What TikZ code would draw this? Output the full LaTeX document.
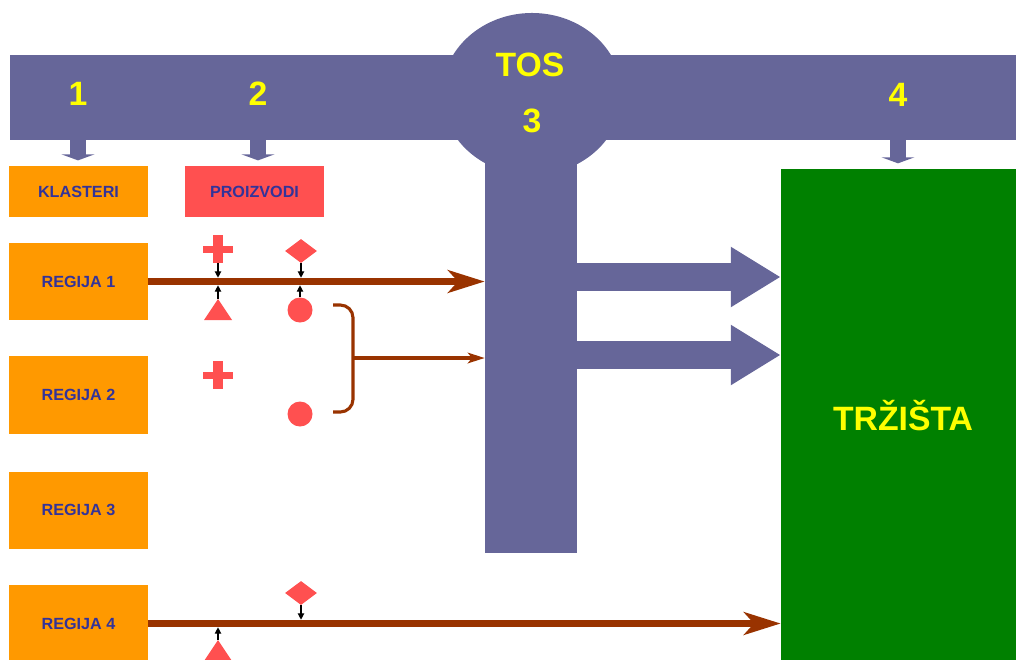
\documentclass[tikz,border=0pt]{standalone}
\usepackage{fontspec}
\setmainfont{Liberation Sans}
\usepackage{xcolor}
\usepackage{tikz}
\usetikzlibrary{arrows.meta,shapes.geometric}
\definecolor{tosblue}{RGB}{102,102,153}
\definecolor{regorange}{RGB}{255,153,0}
\definecolor{symred}{RGB}{255,80,80}
\definecolor{txtblue}{RGB}{51,51,153}
\definecolor{tosyellow}{RGB}{255,255,0}
\definecolor{mktgreen}{RGB}{0,128,0}
\definecolor{flowbrown}{RGB}{153,51,0}
\tikzset{
  tsband/.style={fill=tosblue, draw=none, inner sep=0pt},
  tsbox/.style={fill=regorange, draw=none, inner sep=0pt, minimum width=3.45cm, text=txtblue, font=\fontsize{11.5}{13}\selectfont\bfseries},
  tsnum/.style={text=tosyellow, inner sep=0pt, font=\fontsize{24}{26}\selectfont\bfseries},
  tsdown/.style={line width=12pt, draw=tosblue, -{Triangle[length=4.3pt,width=23.4pt]}, shorten >=3.8pt},
  tsflow/.style={line width=5.4pt, draw=flowbrown, -{Stealth[length=26pt,width=16pt,inset=7pt]}},
  tsthin/.style={line width=2.2pt, draw=flowbrown, -{Stealth[length=12pt,width=7.5pt,inset=3pt]}},
  tsbrace/.style={line width=2.2pt, draw=flowbrown, rounded corners=9pt},
  tsbig/.style={line width=20.5pt, draw=tosblue, -{Triangle[length=35.5pt,width=40.4pt]}},
  tstick/.style={line width=0.8pt, draw=black, -{Triangle[length=4.5pt,width=4.5pt]}, shorten >=2.7pt},
  tsdiamond/.style={diamond, fill=symred, inner sep=0pt, minimum width=0.8cm, minimum height=0.6cm},
  tsdot/.style={circle, fill=symred, inner sep=0pt, minimum size=0.625cm},
  tsplus/.style={inner sep=0pt, minimum width=0.75cm, minimum height=0.7cm,
    path picture={
      \fill[symred] ([xshift=-0.125cm]path picture bounding box.north) rectangle ([xshift=0.125cm]path picture bounding box.south);
      \fill[symred] ([yshift=0.0875cm]path picture bounding box.west) rectangle ([yshift=-0.0875cm]path picture bounding box.east);}},
  tstri/.style={inner sep=0pt, minimum width=0.7cm, minimum height=0.525cm,
    path picture={
      \fill[symred] (path picture bounding box.south west) -- (path picture bounding box.south east) -- (path picture bounding box.north) -- cycle;}},
}

\begin{document}
\begin{tikzpicture}[x=0.025cm,y=-0.025cm]
\useasboundingbox (0,0) rectangle (1016,659);
\node[tsband, minimum width=25.15cm, minimum height=2.125cm] (band) at (513,97.5) {};
\node[tsband, ellipse, minimum width=4.5cm, minimum height=4.05cm] (hub) at (532,94) {};
\node[tsband, minimum width=2.3cm, minimum height=10.075cm] (col) at (531,351.5) {};
\node[tsnum] (lab1) at (78,94) {1};
\node[tsnum] (lab2) at (258,94) {2};
\node[tsnum] (labtos) at (530,64.5) {TOS};
\node[tsnum] (lab3) at (532,121) {3};
\node[tsnum] (lab4) at (898,95) {4};
\node[fill=mktgreen, inner sep=0pt, minimum width=6.1cm, minimum height=12.325cm, text=tosyellow, font=\fontsize{24}{26}\selectfont\bfseries] (trz) at (903,415.5) {TRŽIŠTA};
\node[tsbox, minimum height=1.275cm] (klast) at (78.5,191.5) {KLASTERI};
\node[tsbox, fill=symred, minimum height=1.275cm] (proiz) at (254.5,191.5) {PROIZVODI};
\node[tsbox, minimum height=1.925cm] (reg1) at (78.5,281.5) {REGIJA 1};
\node[tsbox, minimum height=1.925cm] (reg2) at (78.5,395) {REGIJA 2};
\node[tsbox, minimum height=1.925cm] (reg3) at (78.5,510) {REGIJA 3};
\node[tsbox, minimum height=1.925cm] (reg4) at (78.5,623.5) {REGIJA 4};
\draw[tsdown] (lab1 |- band.south) -- (lab1 |- klast.north);
\draw[tsdown] (lab2 |- band.south) -- (lab2 |- proiz.north);
\draw[tsdown] (lab4 |- band.south) -- (lab4 |- trz.north);
\coordinate (out1) at (577,277);
\coordinate (out2) at (577,355);
\draw[tsbig] (out1) -- (out1 -| trz.west);
\draw[tsbig] (out2) -- (out2 -| trz.west);
\draw[tsflow] (reg1.east) -- (reg1.east -| col.west);
\draw[tsflow] (reg4.east) -- (reg4.east -| trz.west);
\node[tsplus] (pl1) at (218,249) {};
\node[tsdiamond] (dm1) at (301,251) {};
\node[tstri] (tr1) at (218,309.5) {};
\node[tsdot] (dt1) at (300,310) {};
\node[tsplus] (pl2) at (218,375) {};
\node[tsdot] (dt2) at (300,414) {};
\node[tsdiamond] (dm4) at (301,593) {};
\node[tstri] (tr4) at (218,650.5) {};
\draw[tstick] (pl1.south) -- (pl1.south |- reg1.east);
\draw[tstick] (dm1.south) -- (dm1.south |- reg1.east);
\draw[tstick] (tr1.north) -- (tr1.north |- reg1.east);
\draw[tstick] (dt1.north) -- (dt1.north |- reg1.east);
\draw[tstick] (dm4.south) -- (dm4.south |- reg4.east);
\draw[tstick] (tr4.north) -- (tr4.north |- reg4.east);
\draw[tsbrace] (333,305) -- (353,305) -- (353,412) -- (333,412);
\coordinate (brc) at (353,358);
\draw[tsthin] (brc) -- (brc -| col.west);
\end{tikzpicture}
\end{document}
